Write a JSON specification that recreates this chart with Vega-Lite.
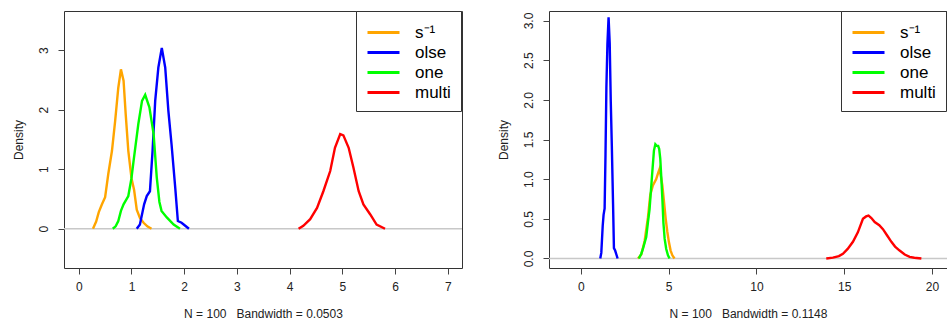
{
  "$schema": "https://vega.github.io/schema/vega-lite/v6.json",
  "padding": {"left": 11, "top": 10, "right": 0, "bottom": 0},
  "background": "white",
  "spacing": 87,
  "bounds": "flush",
  "datasets": {
    "left": [
      {"s": "s⁻¹", "x": 0.27, "y": 0}, {"s": "s⁻¹", "x": 0.33, "y": 0.12}, {"s": "s⁻¹", "x": 0.38, "y": 0.28}, {"s": "s⁻¹", "x": 0.44, "y": 0.41}, {"s": "s⁻¹", "x": 0.5, "y": 0.53}, {"s": "s⁻¹", "x": 0.56, "y": 0.92}, {"s": "s⁻¹", "x": 0.63, "y": 1.31}, {"s": "s⁻¹", "x": 0.69, "y": 1.81}, {"s": "s⁻¹", "x": 0.75, "y": 2.37}, {"s": "s⁻¹", "x": 0.8, "y": 2.68}, {"s": "s⁻¹", "x": 0.85, "y": 2.49}, {"s": "s⁻¹", "x": 0.89, "y": 1.93}, {"s": "s⁻¹", "x": 0.94, "y": 1.31}, {"s": "s⁻¹", "x": 1.0, "y": 0.85}, {"s": "s⁻¹", "x": 1.05, "y": 0.65}, {"s": "s⁻¹", "x": 1.1, "y": 0.32}, {"s": "s⁻¹", "x": 1.16, "y": 0.18}, {"s": "s⁻¹", "x": 1.23, "y": 0.1}, {"s": "s⁻¹", "x": 1.3, "y": 0.04}, {"s": "s⁻¹", "x": 1.38, "y": 0},
      {"s": "olse", "x": 1.1, "y": 0}, {"s": "olse", "x": 1.16, "y": 0.07}, {"s": "olse", "x": 1.24, "y": 0.41}, {"s": "olse", "x": 1.29, "y": 0.55}, {"s": "olse", "x": 1.35, "y": 0.63}, {"s": "olse", "x": 1.4, "y": 1.31}, {"s": "olse", "x": 1.45, "y": 2.15}, {"s": "olse", "x": 1.51, "y": 2.71}, {"s": "olse", "x": 1.575, "y": 3.04}, {"s": "olse", "x": 1.64, "y": 2.71}, {"s": "olse", "x": 1.7, "y": 1.98}, {"s": "olse", "x": 1.76, "y": 1.42}, {"s": "olse", "x": 1.83, "y": 0.69}, {"s": "olse", "x": 1.88, "y": 0.13}, {"s": "olse", "x": 1.95, "y": 0.1}, {"s": "olse", "x": 2.02, "y": 0.05}, {"s": "olse", "x": 2.09, "y": 0},
      {"s": "one", "x": 0.645, "y": 0}, {"s": "one", "x": 0.7, "y": 0.04}, {"s": "one", "x": 0.75, "y": 0.13}, {"s": "one", "x": 0.8, "y": 0.3}, {"s": "one", "x": 0.85, "y": 0.41}, {"s": "one", "x": 0.94, "y": 0.55}, {"s": "one", "x": 1.0, "y": 0.85}, {"s": "one", "x": 1.04, "y": 1.14}, {"s": "one", "x": 1.13, "y": 1.76}, {"s": "one", "x": 1.2, "y": 2.15}, {"s": "one", "x": 1.26, "y": 2.25}, {"s": "one", "x": 1.34, "y": 2.04}, {"s": "one", "x": 1.42, "y": 1.59}, {"s": "one", "x": 1.48, "y": 0.86}, {"s": "one", "x": 1.53, "y": 0.45}, {"s": "one", "x": 1.57, "y": 0.3}, {"s": "one", "x": 1.67, "y": 0.19}, {"s": "one", "x": 1.8, "y": 0.07}, {"s": "one", "x": 1.92, "y": 0},
      {"s": "multi", "x": 4.17, "y": 0}, {"s": "multi", "x": 4.26, "y": 0.05}, {"s": "multi", "x": 4.39, "y": 0.16}, {"s": "multi", "x": 4.52, "y": 0.35}, {"s": "multi", "x": 4.64, "y": 0.63}, {"s": "multi", "x": 4.77, "y": 0.97}, {"s": "multi", "x": 4.86, "y": 1.36}, {"s": "multi", "x": 4.96, "y": 1.59}, {"s": "multi", "x": 5.02, "y": 1.57}, {"s": "multi", "x": 5.12, "y": 1.36}, {"s": "multi", "x": 5.21, "y": 1.03}, {"s": "multi", "x": 5.31, "y": 0.63}, {"s": "multi", "x": 5.4, "y": 0.41}, {"s": "multi", "x": 5.53, "y": 0.24}, {"s": "multi", "x": 5.65, "y": 0.07}, {"s": "multi", "x": 5.81, "y": 0}
    ],
    "right": [
      {"s": "s⁻¹", "x": 3.25, "y": 0}, {"s": "s⁻¹", "x": 3.44, "y": 0.05}, {"s": "s⁻¹", "x": 3.63, "y": 0.22}, {"s": "s⁻¹", "x": 3.82, "y": 0.52}, {"s": "s⁻¹", "x": 3.95, "y": 0.8}, {"s": "s⁻¹", "x": 4.1, "y": 0.92}, {"s": "s⁻¹", "x": 4.29, "y": 1.0}, {"s": "s⁻¹", "x": 4.4, "y": 1.08}, {"s": "s⁻¹", "x": 4.48, "y": 1.13}, {"s": "s⁻¹", "x": 4.56, "y": 1.03}, {"s": "s⁻¹", "x": 4.64, "y": 0.92}, {"s": "s⁻¹", "x": 4.74, "y": 0.7}, {"s": "s⁻¹", "x": 4.83, "y": 0.5}, {"s": "s⁻¹", "x": 4.92, "y": 0.34}, {"s": "s⁻¹", "x": 5.01, "y": 0.21}, {"s": "s⁻¹", "x": 5.11, "y": 0.1}, {"s": "s⁻¹", "x": 5.21, "y": 0.04}, {"s": "s⁻¹", "x": 5.33, "y": 0},
      {"s": "olse", "x": 1.1, "y": 0}, {"s": "olse", "x": 1.16, "y": 0.07}, {"s": "olse", "x": 1.24, "y": 0.41}, {"s": "olse", "x": 1.29, "y": 0.55}, {"s": "olse", "x": 1.35, "y": 0.63}, {"s": "olse", "x": 1.4, "y": 1.31}, {"s": "olse", "x": 1.45, "y": 2.15}, {"s": "olse", "x": 1.51, "y": 2.71}, {"s": "olse", "x": 1.575, "y": 3.04}, {"s": "olse", "x": 1.64, "y": 2.71}, {"s": "olse", "x": 1.7, "y": 1.98}, {"s": "olse", "x": 1.76, "y": 1.42}, {"s": "olse", "x": 1.83, "y": 0.69}, {"s": "olse", "x": 1.88, "y": 0.13}, {"s": "olse", "x": 1.95, "y": 0.1}, {"s": "olse", "x": 2.02, "y": 0.05}, {"s": "olse", "x": 2.09, "y": 0},
      {"s": "one", "x": 3.3, "y": 0}, {"s": "one", "x": 3.44, "y": 0.06}, {"s": "one", "x": 3.53, "y": 0.12}, {"s": "one", "x": 3.63, "y": 0.2}, {"s": "one", "x": 3.72, "y": 0.27}, {"s": "one", "x": 3.82, "y": 0.46}, {"s": "one", "x": 3.91, "y": 0.62}, {"s": "one", "x": 4.01, "y": 0.92}, {"s": "one", "x": 4.07, "y": 1.1}, {"s": "one", "x": 4.16, "y": 1.36}, {"s": "one", "x": 4.24, "y": 1.44}, {"s": "one", "x": 4.32, "y": 1.42}, {"s": "one", "x": 4.4, "y": 1.42}, {"s": "one", "x": 4.46, "y": 1.38}, {"s": "one", "x": 4.52, "y": 1.26}, {"s": "one", "x": 4.58, "y": 1.02}, {"s": "one", "x": 4.64, "y": 0.75}, {"s": "one", "x": 4.7, "y": 0.45}, {"s": "one", "x": 4.77, "y": 0.25}, {"s": "one", "x": 4.86, "y": 0.12}, {"s": "one", "x": 4.96, "y": 0.04}, {"s": "one", "x": 5.05, "y": 0},
      {"s": "multi", "x": 13.98, "y": 0}, {"s": "multi", "x": 14.36, "y": 0.01}, {"s": "multi", "x": 14.7, "y": 0.03}, {"s": "multi", "x": 14.93, "y": 0.06}, {"s": "multi", "x": 15.2, "y": 0.12}, {"s": "multi", "x": 15.5, "y": 0.21}, {"s": "multi", "x": 15.78, "y": 0.33}, {"s": "multi", "x": 16.07, "y": 0.5}, {"s": "multi", "x": 16.25, "y": 0.53}, {"s": "multi", "x": 16.39, "y": 0.54}, {"s": "multi", "x": 16.55, "y": 0.51}, {"s": "multi", "x": 16.74, "y": 0.46}, {"s": "multi", "x": 17.0, "y": 0.42}, {"s": "multi", "x": 17.21, "y": 0.37}, {"s": "multi", "x": 17.45, "y": 0.29}, {"s": "multi", "x": 17.69, "y": 0.21}, {"s": "multi", "x": 17.9, "y": 0.15}, {"s": "multi", "x": 18.16, "y": 0.1}, {"s": "multi", "x": 18.45, "y": 0.05}, {"s": "multi", "x": 18.73, "y": 0.02}, {"s": "multi", "x": 19.0, "y": 0.01}, {"s": "multi", "x": 19.4, "y": 0}
    ],
    "zero": [{"z": 0}]
  },
  "hconcat": [
    {
      "width": 398,
      "height": 257,
      "layer": [
        {
          "data": {"name": "zero"},
          "mark": {"type": "rule", "color": "#c8c8c8", "strokeWidth": 1.5},
          "encoding": {"y": {"field": "z", "type": "quantitative"}}
        },
        {
          "data": {"name": "left"},
          "mark": {"type": "line", "strokeWidth": 2.4},
          "encoding": {
            "x": {"field": "x", "type": "quantitative",
                  "scale": {"domain": [-0.28, 7.27], "nice": false, "zero": false},
                  "axis": {"values": [0, 1, 2, 3, 4, 5, 6, 7], "format": "d", "title": "N = 100\u00a0\u00a0 Bandwidth = 0.0503"}},
            "y": {"field": "y", "type": "quantitative",
                  "scale": {"domain": [-0.66, 3.66], "nice": false, "zero": false},
                  "axis": {"values": [0, 1, 2, 3], "format": "d", "title": "Density"}},
            "color": {"field": "s", "type": "nominal",
                      "scale": {"domain": ["s⁻¹", "olse", "one", "multi"], "range": ["#FFA500", "#0000FF", "#00FF00", "#FF0000"]},
                      "legend": {"orient": "none", "legendX": 292, "legendY": 0}}
          }
        }
      ]
    },
    {
      "width": 398,
      "height": 257,
      "layer": [
        {
          "data": {"name": "zero"},
          "mark": {"type": "rule", "color": "#c8c8c8", "strokeWidth": 1.5},
          "encoding": {"y": {"field": "z", "type": "quantitative"}}
        },
        {
          "data": {"name": "right"},
          "mark": {"type": "line", "strokeWidth": 2.4},
          "encoding": {
            "x": {"field": "x", "type": "quantitative",
                  "scale": {"domain": [-1.82, 20.86], "nice": false, "zero": false},
                  "axis": {"values": [0, 5, 10, 15, 20], "format": "d", "title": "N = 100\u00a0\u00a0 Bandwidth = 0.1148"}},
            "y": {"field": "y", "type": "quantitative",
                  "scale": {"domain": [-0.12, 3.12], "nice": false, "zero": false},
                  "axis": {"values": [0, 0.5, 1, 1.5, 2, 2.5, 3], "format": ".1f", "title": "Density"}},
            "color": {"field": "s", "type": "nominal",
                      "scale": {"domain": ["s⁻¹", "olse", "one", "multi"], "range": ["#FFA500", "#0000FF", "#00FF00", "#FF0000"]},
                      "legend": {"orient": "none", "legendX": 292, "legendY": 0}}
          }
        }
      ]
    }
  ],
  "resolve": {"scale": {"color": "independent", "x": "independent", "y": "independent"}, "axis": {"x": "independent", "y": "independent"}, "legend": {"color": "independent"}},
  "config": {
    "view": {"stroke": "#333333", "strokeWidth": 1},
    "axis": {
      "domain": false, "grid": false,
      "tickColor": "#444444", "tickSize": 6, "tickWidth": 1,
      "labelFont": "Liberation Sans", "labelFontSize": 12, "labelColor": "#222222",
      "labelFlush": false, "labelOverlap": false,
      "titleFont": "Liberation Sans", "titleFontSize": 12, "titleFontWeight": "normal", "titleColor": "#222222"
    },
    "axisX": {"labelPadding": 7, "titlePadding": 16},
    "axisY": {"labelAngle": -90, "labelAlign": "center", "labelBaseline": "bottom", "labelPadding": 8, "titlePadding": 12},
    "legend": {
      "title": null,
      "symbolType": "M-1.6,0H1.6", "symbolSize": 400, "symbolStrokeWidth": 3, "symbolOffset": 6,
      "labelFont": "Liberation Sans", "labelFontSize": 17, "labelColor": "black",
      "labelOffset": 20, "padding": 10, "rowPadding": 0,
      "strokeColor": "#333333", "fillColor": "white"
    }
  }
}
